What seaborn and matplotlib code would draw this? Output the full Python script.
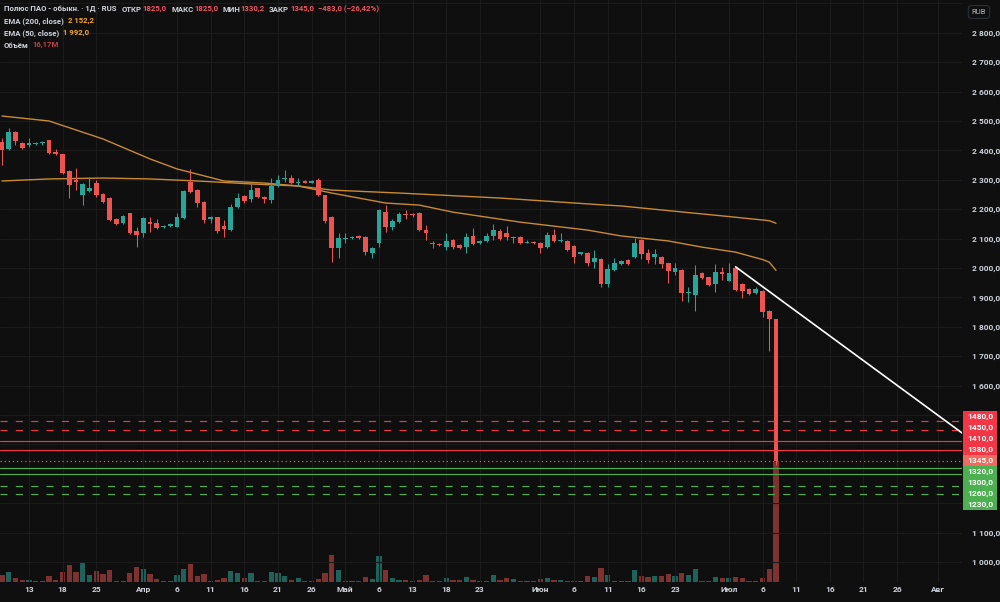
import numpy as np
import pandas as pd
import matplotlib
matplotlib.use("Agg")
import matplotlib.pyplot as plt
import seaborn as sns
from matplotlib.patches import Rectangle

# daily candles, one row per bar (bar index 0..115)
opens = [2429, 2405, 2464, 2426, 2418, 2422, 2424, 2435, 2396, 2387,
         2331, 2299, 2248, 2263, 2290, 2252, 2237, 2167, 2154, 2186,
         2125, 2118, 2156, 2153, 2139, 2143, 2140, 2169, 2294, 2265,
         2225, 2167, 2172, 2143, 2129, 2206, 2245, 2234, 2271, 2242,
         2231, 2279, 2302, 2305, 2290, 2296, 2290, 2299, 2248, 2174,
         2067, 2099, 2103, 2109, 2106, 2050, 2086, 2189, 2138, 2155,
         2184, 2184, 2188, 2129, 2084, 2082, 2072, 2095, 2078, 2070,
         2109, 2084, 2093, 2109, 2127, 2118, 2101, 2106, 2086, 2089,
         2086, 2070, 2112, 2093, 2092, 2075, 2048, 2052, 2021, 2030,
         1946, 1993, 2014, 2027, 2038, 2095, 2052, 2036, 2038, 2016,
         1987, 1993, 1914, 1908, 1984, 1968, 1946, 1987, 1957, 1999,
         1946, 1929, 1916, 1922, 1855, 1825]
highs = [2442, 2476, 2466, 2429, 2441, 2428, 2432, 2437, 2405, 2389,
         2333, 2339, 2288, 2311, 2299, 2255, 2240, 2170, 2180, 2188,
         2140, 2174, 2174, 2166, 2146, 2152, 2186, 2265, 2336, 2268,
         2228, 2176, 2175, 2163, 2218, 2254, 2248, 2294, 2273, 2245,
         2305, 2316, 2333, 2316, 2305, 2299, 2299, 2306, 2250, 2177,
         2120, 2118, 2110, 2112, 2109, 2070, 2200, 2214, 2165, 2190,
         2197, 2188, 2190, 2146, 2092, 2086, 2120, 2098, 2081, 2120,
         2135, 2095, 2118, 2150, 2131, 2143, 2109, 2109, 2095, 2092,
         2089, 2123, 2132, 2120, 2095, 2078, 2056, 2055, 2061, 2033,
         2014, 2035, 2027, 2030, 2101, 2098, 2064, 2064, 2041, 2018,
         2016, 1997, 1936, 2010, 1987, 1971, 2013, 2004, 2018, 2004,
         1949, 1932, 1936, 1925, 1858, 1825]
lows = [2350, 2401, 2418, 2404, 2410, 2420, 2418, 2388, 2385, 2320,
        2237, 2265, 2214, 2260, 2242, 2222, 2160, 2147, 2150, 2115,
        2070, 2106, 2123, 2134, 2136, 2140, 2138, 2165, 2256, 2208,
        2152, 2152, 2118, 2106, 2126, 2203, 2220, 2225, 2237, 2220,
        2220, 2277, 2294, 2285, 2279, 2288, 2288, 2245, 2152, 2021,
        2033, 2084, 2100, 2100, 2044, 2033, 2072, 2123, 2129, 2152,
        2166, 2174, 2127, 2095, 2067, 2075, 2061, 2064, 2064, 2050,
        2078, 2081, 2090, 2095, 2096, 2095, 2084, 2081, 2084, 2082,
        2050, 2067, 2089, 2089, 2058, 2018, 2045, 2007, 1999, 1936,
        1936, 1990, 2010, 2010, 2035, 2030, 2016, 2014, 2001, 1950,
        1976, 1888, 1885, 1855, 1962, 1939, 1919, 1959, 1955, 1922,
        1899, 1909, 1913, 1832, 1719, 1330.2]
closes = [2401, 2464, 2433, 2407, 2424, 2426, 2426, 2390, 2387, 2322,
          2282, 2294, 2286, 2273, 2248, 2225, 2163, 2150, 2177, 2118,
          2113, 2171, 2150, 2137, 2143, 2149, 2172, 2262, 2260, 2222,
          2163, 2172, 2127, 2132, 2206, 2239, 2228, 2265, 2240, 2235,
          2279, 2299, 2305, 2288, 2294, 2290, 2296, 2248, 2161, 2067,
          2101, 2103, 2106, 2103, 2055, 2067, 2197, 2138, 2161, 2184,
          2180, 2180, 2129, 2118, 2081, 2078, 2092, 2072, 2069, 2106,
          2081, 2092, 2109, 2129, 2099, 2104, 2103, 2084, 2089, 2084,
          2067, 2112, 2092, 2095, 2061, 2038, 2053, 2016, 2033, 1946,
          1997, 2018, 2024, 2014, 2084, 2048, 2027, 2048, 2014, 1991,
          1999, 1914, 1919, 1976, 1965, 1942, 1987, 1980, 1984, 1925,
          1923, 1912, 1929, 1851, 1828, 1345]
# volume, millions of shares
volume = [0.90, 1.35, 0.54, 0.31, 0.31, 0.09, 0.09, 0.77, 0.23, 1.35,
          2.33, 1.35, 2.69, 0.90, 1.44, 1.12, 1.58, 0.09, 0.09, 1.25,
          2.02, 1.71, 1.04, 0.44, 0.09, 0.09, 0.90, 1.79, 2.42, 0.77,
          1.12, 0.09, 0.23, 0.54, 1.44, 1.25, 0.54, 1.21, 0.13, 0.09,
          1.35, 1.21, 0.81, 0.31, 0.54, 0.09, 0.09, 0.36, 1.25, 3.68,
          1.58, 0.13, 0.13, 0.13, 0.67, 0.44, 3.50, 1.58, 0.54, 0.27,
          0.31, 0.13, 0.23, 0.90, 0.13, 0.13, 0.54, 0.23, 0.23, 0.67,
          0.31, 0.13, 0.13, 0.90, 0.31, 0.54, 0.44, 0.09, 0.09, 0.09,
          0.36, 0.54, 0.23, 0.23, 0.13, 0.13, 0.13, 0.81, 0.67, 1.89,
          0.98, 0.13, 0.09, 0.09, 1.58, 0.77, 0.67, 0.77, 0.77, 1.12,
          0.81, 1.25, 0.98, 1.71, 0.09, 0.09, 0.67, 0.54, 0.54, 0.67,
          0.58, 0.09, 0.09, 0.54, 1.79, 16.17]

ema50_bar = [0, 7, 15, 22, 26, 33, 39, 44, 49, 57, 62, 67, 77, 87, 92, 99, 104, 109, 112, 113, 114, 115]
ema50_val = [2517, 2500, 2439, 2371, 2337, 2296, 2289, 2279, 2255, 2221, 2214, 2190, 2156, 2129,
             2109, 2092, 2071, 2054, 2035, 2029, 2020, 1992]
ema200_bar = [0, 7, 15, 22, 29, 37, 44, 49, 59, 74, 89, 92, 100, 108, 111, 114, 115]
ema200_val = [2296, 2303, 2306, 2303, 2296, 2286, 2279, 2265, 2255, 2238, 2215, 2211, 2193, 2175,
              2168, 2161, 2152.2]

trend_bar = [109, 143]
trend_val = [2004, 1433]

levels = [1480, 1450, 1410, 1380, 1345, 1320, 1300, 1260, 1230]
level_side = ['sell', 'sell', 'sell', 'sell', 'last', 'buy', 'buy', 'buy', 'buy']
level_style = ['dash', 'dash', 'solid', 'solid', 'dot', 'solid', 'solid', 'dash', 'dash']

price_ticks = [2800, 2700, 2600, 2500, 2400, 2300, 2200, 2100, 2000, 1900, 1800, 1700, 1600, 1100, 1000]
tick_bars = [4, 9, 14, 21, 26, 31, 36, 41, 46, 51, 56, 61, 66, 71, 80, 85, 90, 95, 100,
             108, 113, 118, 123, 128, 133, 139]
tick_labels = ['13', '18', '25', 'Апр', '6', '11', '16', '21', '26', 'Май', '6', '13', '18', '23',
               'Июн', '6', '11', '16', '23', 'Июл', '6', '11', '16', '21', '26', 'Авг']
months = ['Апр', 'Май', 'Июн', 'Июл', 'Авг']

BG = '#0f0f0f'
GRID = '#1b1b1b'
TXT = '#d1d4dc'
UP = '#26a69a'
DN = '#ef5350'
VOL_UP = '#1d625b'
VOL_DN = '#7f312f'
EMA_C = '#c98a35'
RED_L = '#f23645'
GREEN_L = '#4caf50'
LAST_C = '#ef6b5f'

sns.set_theme(style="dark", rc={"axes.facecolor": BG, "figure.facecolor": BG})
plt.rcParams['font.family'] = ['Roboto', 'DejaVu Sans']

W, H = 1000, 602
fig = plt.figure(figsize=(10, 6.02), dpi=100, facecolor=BG)
ax_vol = fig.add_axes([0, 20 / H, 0.962, 582 / H])
ax_vol.set_facecolor(BG)
ax = ax_vol.twinx()

df = pd.DataFrame({'bar': np.arange(len(opens)), 'o': opens, 'h': highs, 'l': lows, 'c': closes, 'vol': volume})
df['dir'] = np.where(df['c'] >= df['o'], 'up', 'down')

# volume in the bottom part
sns.barplot(data=df, x='bar', y='vol', hue='dir', palette={'up': VOL_UP, 'down': VOL_DN},
            native_scale=True, dodge=False, errorbar=None, legend=False, width=0.78,
            saturation=1, linewidth=0, ax=ax_vol)
ax_vol.set_ylim(0, 16.17 * 582 / 120)

# grid
for p in range(1000, 3000, 100):
    ax.axhline(p, color=GRID, lw=0.8, zorder=0)
for b in tick_bars:
    ax.axvline(b, color=GRID, lw=0.8, zorder=0)

# candles
cols = np.where(df['dir'] == 'up', UP, DN)
ax.vlines(df['bar'], df['l'], df['h'], colors=cols, linewidth=0.75, zorder=3)
body_lo = np.minimum(df['o'], df['c'])
body_h = np.maximum((df['c'] - df['o']).abs(), 3.0)
ax.bar(df['bar'], body_h, bottom=body_lo, width=0.7, color=cols, linewidth=0, zorder=4)

# moving averages
sns.lineplot(x=ema200_bar, y=ema200_val, ax=ax, color=EMA_C, linewidth=1.0, zorder=2)
sns.lineplot(x=ema50_bar, y=ema50_val, ax=ax, color=EMA_C, linewidth=1.0, zorder=2)

# trend line
ax.plot(trend_bar, trend_val, color='white', lw=1.2, zorder=6, solid_capstyle='round')

# horizontal levels
for lv, side, st in zip(levels, level_side, level_style):
    c = {'sell': RED_L, 'buy': GREEN_L, 'last': LAST_C}[side]
    ls = {'dash': (0, (6, 7)), 'solid': '-', 'dot': (0, (1, 2.5))}[st]
    ax.axhline(lv, color=c, lw=0.85, ls=ls, zorder=5)

ax.set_xlim(-0.297, 142.64)
ax.set_ylim(931.97, 2911.6)
ax.set_xlabel('')
ax.set_ylabel('')
ax_vol.set_xlabel('')
ax_vol.set_ylabel('')

for a in (ax, ax_vol):
    for s in a.spines.values():
        s.set_visible(False)

ax_vol.set_yticks([])
ax_vol.set_xticks(tick_bars)
ax_vol.set_xticklabels(tick_labels)
ax_vol.tick_params(axis='x', length=0, pad=3, labelsize=6, labelcolor=TXT)
for t in ax_vol.get_xticklabels():
    if t.get_text() in months:
        t.set_fontweight('bold')
    else:
        t.set_fontweight('semibold')

ax.set_yticks(price_ticks)
ax.set_yticklabels([f"{v:,.1f}".replace(',', ' ').replace('.', ',') for v in price_ticks])
ax.tick_params(axis='y', length=0, pad=7, labelsize=6, labelcolor=TXT)
for t in ax.get_yticklabels():
    t.set_fontweight('semibold')

# price labels for the levels, stacked on the scale
to_fig = fig.transFigure.inverted()
base = ax.transData.transform((0, levels[4]))[1]
for i, (lv, side) in enumerate(zip(levels, level_side)):
    c = {'sell': RED_L, 'buy': GREEN_L, 'last': LAST_C}[side]
    yc = to_fig.transform((0, base + (4 - i) * 11))[1]
    fig.patches.append(Rectangle((0.963, yc - 5.3 / H), 0.034, 10.6 / H, transform=fig.transFigure,
                                 facecolor=c, edgecolor='none', zorder=10))
    fig.text(0.980, yc, f"{lv:.1f}".replace('.', ','), color='white', fontsize=6,
             fontweight='semibold', ha='center', va='center', zorder=11)

# currency box
fig.text(0.979, 1 - 12 / H, 'RUB', color='#b2b5be', fontsize=5.5, ha='center', va='center',
         bbox=dict(boxstyle='round,pad=0.45', fc=BG, ec='#2e3038', lw=0.8))


# header lines, pieces of coloured text one after another
HS = 5.6


def header(parts, y):
    prev = fig.text(4 / W, 1 - y / H, parts[0][0], color=parts[0][1], fontsize=HS,
                    fontweight='semibold', ha='left', va='center')
    for txt, col, gap in parts[1:]:
        prev = ax.annotate(txt, xy=(1, 0.5), xycoords=prev, xytext=(gap, 0), textcoords='offset points',
                           color=col, fontsize=HS, fontweight='semibold', ha='left', va='center',
                           annotation_clip=False)


VAL_C = '#f7525f'
header([('Полюс ПАО - обыкн. · 1Д · RUS', TXT, 0), ('ОТКР', TXT, 4), ('1825,0', VAL_C, 0.5),
        ('МАКС', TXT, 3), ('1825,0', VAL_C, 0.5), ('МИН', TXT, 3), ('1330,2', VAL_C, 0.5),
        ('ЗАКР', TXT, 3), ('1345,0', VAL_C, 0.5), ('−483,0 (−26,42%)', VAL_C, 3)], 9)
header([('EMA (200, close)', TXT, 0), ('2 152,2', '#f5a623', 3)], 21)
header([('EMA (50, close)', TXT, 0), ('1 992,0', '#f5a623', 3)], 33)
header([('Объём', TXT, 0), ('16,17M', '#c0443f', 3)], 45)

fig.savefig('out.png', dpi=100, facecolor=BG)
